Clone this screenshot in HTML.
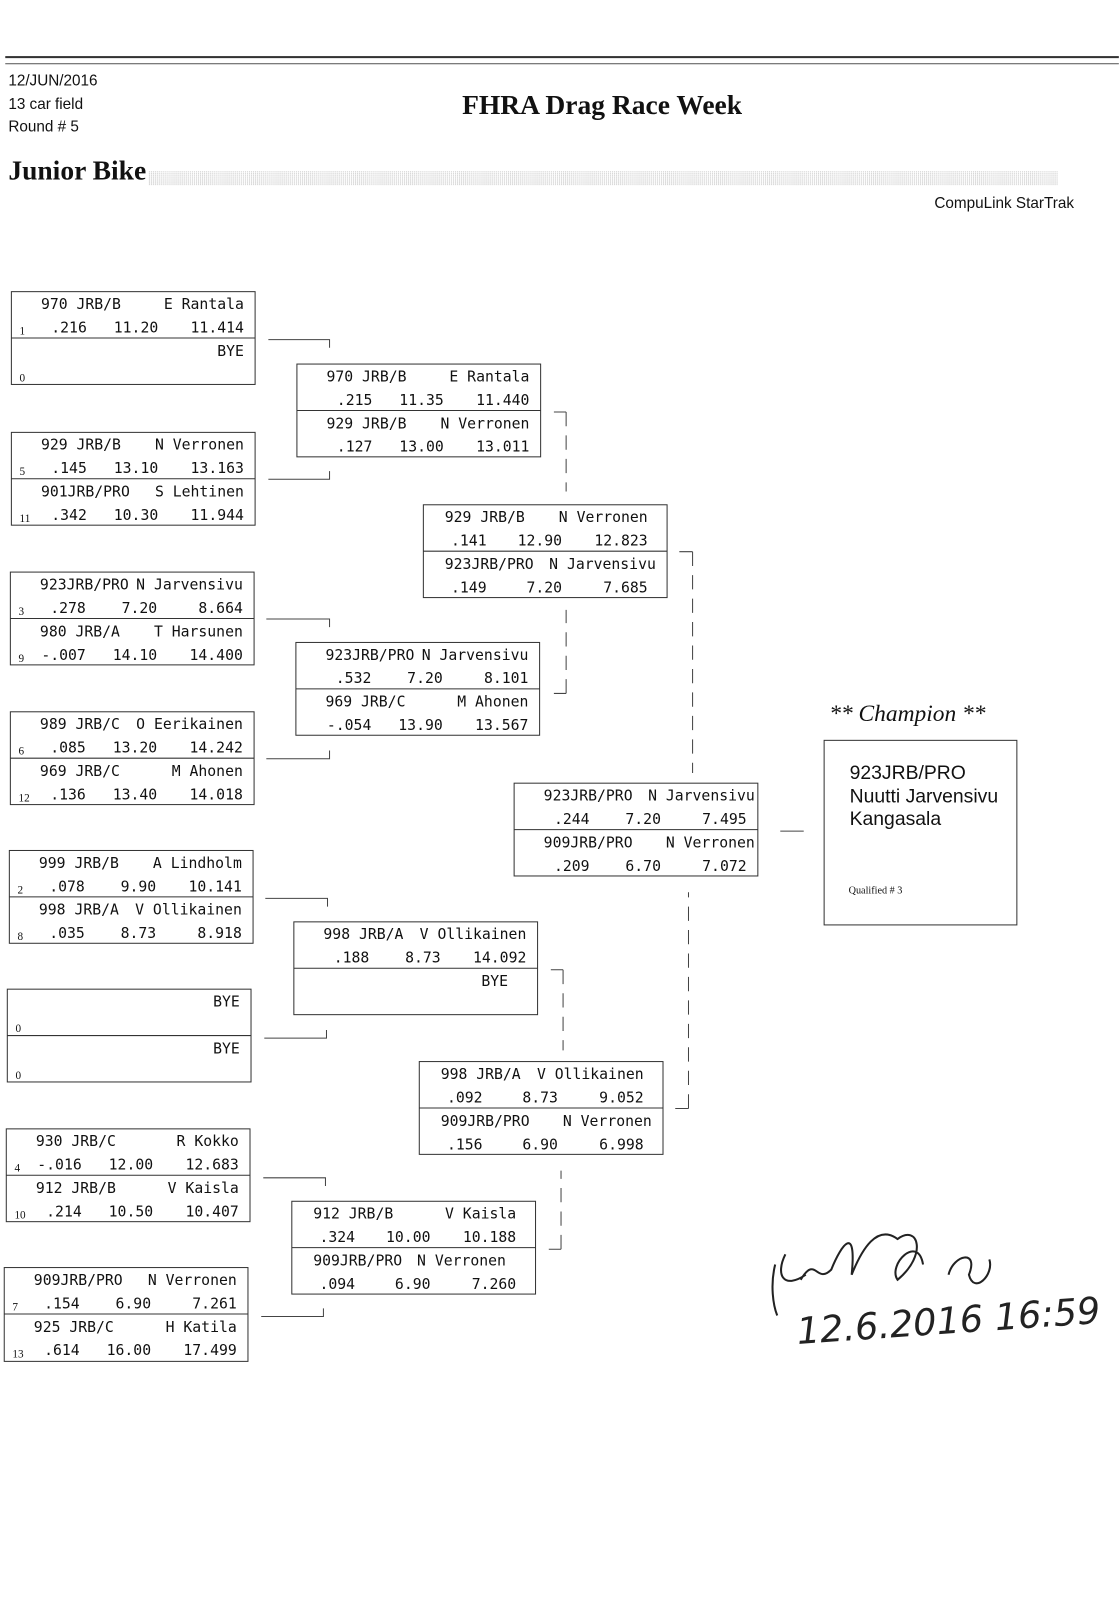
<!DOCTYPE html>
<html><head><meta charset="utf-8"><style>
body{margin:0;width:1119px;height:1600px;background:#fff;overflow:hidden}
svg{display:block}
.m{font-family:"DejaVu Sans Mono","Liberation Mono",monospace;font-size:14.5px;fill:#111}
.e{text-anchor:end}
.s{font-family:"Liberation Serif",serif;font-size:11px;fill:#111}
.bx{fill:none;stroke:#333;stroke-width:1}
</style></head><body>
<svg width="1119" height="1600" viewBox="0 0 1097 1569" xmlns="http://www.w3.org/2000/svg">
<rect x="5" y="55" width="1092" height="2" fill="#333"/>
<rect x="5" y="62" width="1092" height="1" fill="#555"/>
<g font-family="Liberation Sans, sans-serif" font-size="15" fill="#111">
<text x="8" y="84">12/JUN/2016</text><text x="8" y="107">13 car field</text><text x="8" y="129">Round # 5</text>
<text x="1053" y="204" text-anchor="end">CompuLink StarTrak</text>
</g>
<text x="453" y="112" font-family="Liberation Serif, serif" font-weight="bold" font-size="27" fill="#111">FHRA Drag Race Week</text>
<text x="8" y="176" font-family="Liberation Serif, serif" font-weight="bold" font-size="27" fill="#111">Junior Bike</text>
<defs><pattern id="dp" width="2" height="2" patternUnits="userSpaceOnUse"><rect width="1" height="1" fill="#bbb"/></pattern></defs>
<rect x="145" y="168" width="892" height="14" fill="url(#dp)"/>

<g class="m">
<g transform="translate(11,286)"><rect class="bx" width="239" height="91"/><line class="bx" x1="0" y1="45.5" x2="239" y2="45.5"/><text x="29" y="17">970 JRB/B</text><text class="e" x="228" y="17">E Rantala</text><text class="s" x="8" y="42">1</text><text class="e" x="74" y="40">.216</text><text class="e" x="144" y="40">11.20</text><text class="e" x="228" y="40">11.414</text><text class="e" x="228" y="63">BYE</text><text class="s" x="8" y="88">0</text></g>
<g transform="translate(11,424)"><rect class="bx" width="239" height="91"/><line class="bx" x1="0" y1="45.5" x2="239" y2="45.5"/><text x="29" y="17">929 JRB/B</text><text class="e" x="228" y="17">N Verronen</text><text class="s" x="8" y="42">5</text><text class="e" x="74" y="40">.145</text><text class="e" x="144" y="40">13.10</text><text class="e" x="228" y="40">13.163</text><text x="29" y="63">901JRB/PRO</text><text class="e" x="228" y="63">S Lehtinen</text><text class="s" x="8" y="88">11</text><text class="e" x="74" y="86">.342</text><text class="e" x="144" y="86">10.30</text><text class="e" x="228" y="86">11.944</text></g>
<g transform="translate(10,561)"><rect class="bx" width="239" height="91"/><line class="bx" x1="0" y1="45.5" x2="239" y2="45.5"/><text x="29" y="17">923JRB/PRO</text><text class="e" x="228" y="17">N Jarvensivu</text><text class="s" x="8" y="42">3</text><text class="e" x="74" y="40">.278</text><text class="e" x="144" y="40">7.20</text><text class="e" x="228" y="40">8.664</text><text x="29" y="63">980 JRB/A</text><text class="e" x="228" y="63">T Harsunen</text><text class="s" x="8" y="88">9</text><text class="e" x="74" y="86">-.007</text><text class="e" x="144" y="86">14.10</text><text class="e" x="228" y="86">14.400</text></g>
<g transform="translate(10,698)"><rect class="bx" width="239" height="91"/><line class="bx" x1="0" y1="45.5" x2="239" y2="45.5"/><text x="29" y="17">989 JRB/C</text><text class="e" x="228" y="17">O Eerikainen</text><text class="s" x="8" y="42">6</text><text class="e" x="74" y="40">.085</text><text class="e" x="144" y="40">13.20</text><text class="e" x="228" y="40">14.242</text><text x="29" y="63">969 JRB/C</text><text class="e" x="228" y="63">M Ahonen</text><text class="s" x="8" y="88">12</text><text class="e" x="74" y="86">.136</text><text class="e" x="144" y="86">13.40</text><text class="e" x="228" y="86">14.018</text></g>
<g transform="translate(9,834)"><rect class="bx" width="239" height="91"/><line class="bx" x1="0" y1="45.5" x2="239" y2="45.5"/><text x="29" y="17">999 JRB/B</text><text class="e" x="228" y="17">A Lindholm</text><text class="s" x="8" y="42">2</text><text class="e" x="74" y="40">.078</text><text class="e" x="144" y="40">9.90</text><text class="e" x="228" y="40">10.141</text><text x="29" y="63">998 JRB/A</text><text class="e" x="228" y="63">V Ollikainen</text><text class="s" x="8" y="88">8</text><text class="e" x="74" y="86">.035</text><text class="e" x="144" y="86">8.73</text><text class="e" x="228" y="86">8.918</text></g>
<g transform="translate(7,970)"><rect class="bx" width="239" height="91"/><line class="bx" x1="0" y1="45.5" x2="239" y2="45.5"/><text class="e" x="228" y="17">BYE</text><text class="s" x="8" y="42">0</text><text class="e" x="228" y="63">BYE</text><text class="s" x="8" y="88">0</text></g>
<g transform="translate(6,1107)"><rect class="bx" width="239" height="91"/><line class="bx" x1="0" y1="45.5" x2="239" y2="45.5"/><text x="29" y="17">930 JRB/C</text><text class="e" x="228" y="17">R Kokko</text><text class="s" x="8" y="42">4</text><text class="e" x="74" y="40">-.016</text><text class="e" x="144" y="40">12.00</text><text class="e" x="228" y="40">12.683</text><text x="29" y="63">912 JRB/B</text><text class="e" x="228" y="63">V Kaisla</text><text class="s" x="8" y="88">10</text><text class="e" x="74" y="86">.214</text><text class="e" x="144" y="86">10.50</text><text class="e" x="228" y="86">10.407</text></g>
<g transform="translate(4,1243)"><rect class="bx" width="239" height="92"/><line class="bx" x1="0" y1="45.5" x2="239" y2="45.5"/><text x="29" y="17">909JRB/PRO</text><text class="e" x="228" y="17">N Verronen</text><text class="s" x="8" y="42">7</text><text class="e" x="74" y="40">.154</text><text class="e" x="144" y="40">6.90</text><text class="e" x="228" y="40">7.261</text><text x="29" y="63">925 JRB/C</text><text class="e" x="228" y="63">H Katila</text><text class="s" x="8" y="88">13</text><text class="e" x="74" y="86">.614</text><text class="e" x="144" y="86">16.00</text><text class="e" x="228" y="86">17.499</text></g>

<g transform="translate(291,357)"><rect class="bx" width="239" height="91"/><line class="bx" x1="0" y1="45.5" x2="239" y2="45.5"/><text x="29" y="17">970 JRB/B</text><text class="e" x="228" y="17">E Rantala</text><text class="e" x="74" y="40">.215</text><text class="e" x="144" y="40">11.35</text><text class="e" x="228" y="40">11.440</text><text x="29" y="63">929 JRB/B</text><text class="e" x="228" y="63">N Verronen</text><text class="e" x="74" y="86">.127</text><text class="e" x="144" y="86">13.00</text><text class="e" x="228" y="86">13.011</text></g>
<g transform="translate(290,630)"><rect class="bx" width="239" height="91"/><line class="bx" x1="0" y1="45.5" x2="239" y2="45.5"/><text x="29" y="17">923JRB/PRO</text><text class="e" x="228" y="17">N Jarvensivu</text><text class="e" x="74" y="40">.532</text><text class="e" x="144" y="40">7.20</text><text class="e" x="228" y="40">8.101</text><text x="29" y="63">969 JRB/C</text><text class="e" x="228" y="63">M Ahonen</text><text class="e" x="74" y="86">-.054</text><text class="e" x="144" y="86">13.90</text><text class="e" x="228" y="86">13.567</text></g>
<g transform="translate(288,904)"><rect class="bx" width="239" height="91"/><line class="bx" x1="0" y1="45.5" x2="239" y2="45.5"/><text x="29" y="17">998 JRB/A</text><text class="e" x="228" y="17">V Ollikainen</text><text class="e" x="74" y="40">.188</text><text class="e" x="144" y="40">8.73</text><text class="e" x="228" y="40">14.092</text><text class="e" x="210" y="63">BYE</text></g>
<g transform="translate(286,1178)"><rect class="bx" width="239" height="91"/><line class="bx" x1="0" y1="45.5" x2="239" y2="45.5"/><text x="21" y="17">912 JRB/B</text><text class="e" x="220" y="17">V Kaisla</text><text class="e" x="62" y="40">.324</text><text class="e" x="136" y="40">10.00</text><text class="e" x="220" y="40">10.188</text><text x="21" y="63">909JRB/PRO</text><text class="e" x="210" y="63">N Verronen</text><text class="e" x="62" y="86">.094</text><text class="e" x="136" y="86">6.90</text><text class="e" x="220" y="86">7.260</text></g>

<g transform="translate(415,495)"><rect class="bx" width="239" height="91"/><line class="bx" x1="0" y1="45.5" x2="239" y2="45.5"/><text x="21" y="17">929 JRB/B</text><text class="e" x="220" y="17">N Verronen</text><text class="e" x="62" y="40">.141</text><text class="e" x="136" y="40">12.90</text><text class="e" x="220" y="40">12.823</text><text x="21" y="63">923JRB/PRO</text><text class="e" x="228" y="63">N Jarvensivu</text><text class="e" x="62" y="86">.149</text><text class="e" x="136" y="86">7.20</text><text class="e" x="220" y="86">7.685</text></g>
<g transform="translate(411,1041)"><rect class="bx" width="239" height="91"/><line class="bx" x1="0" y1="45.5" x2="239" y2="45.5"/><text x="21" y="17">998 JRB/A</text><text class="e" x="220" y="17">V Ollikainen</text><text class="e" x="62" y="40">.092</text><text class="e" x="136" y="40">8.73</text><text class="e" x="220" y="40">9.052</text><text x="21" y="63">909JRB/PRO</text><text class="e" x="228" y="63">N Verronen</text><text class="e" x="62" y="86">.156</text><text class="e" x="136" y="86">6.90</text><text class="e" x="220" y="86">6.998</text></g>
<g transform="translate(504,768)"><rect class="bx" width="239" height="91"/><line class="bx" x1="0" y1="45.5" x2="239" y2="45.5"/><text x="29" y="17">923JRB/PRO</text><text class="e" x="236" y="17">N Jarvensivu</text><text class="e" x="74" y="40">.244</text><text class="e" x="144" y="40">7.20</text><text class="e" x="228" y="40">7.495</text><text x="29" y="63">909JRB/PRO</text><text class="e" x="236" y="63">N Verronen</text><text class="e" x="74" y="86">.209</text><text class="e" x="144" y="86">6.70</text><text class="e" x="228" y="86">7.072</text></g>
</g>

<text x="813" y="707" font-family="Liberation Serif, serif" font-style="italic" font-size="23" fill="#111">** Champion **</text>
<rect class="bx" x="808" y="726" width="189" height="181"/>
<g font-family="Liberation Sans, sans-serif" font-size="19" fill="#111"><text x="833" y="764">923JRB/PRO</text><text x="833" y="787">Nuutti Jarvensivu</text><text x="833" y="809">Kangasala</text></g>
<text x="832" y="876" font-family="Liberation Serif, serif" font-size="10" fill="#111">Qualified # 3</text>

<g fill="none" stroke="#444" stroke-width="1">
<path d="M263 333H323V341M263 470H323V462M261 607H323V615M261 744H323V736M260 881H321V889M259 1018H320V1010M258 1155H319V1163M256 1291H317V1283"/>
<path d="M543 404H555M543 680H555M540 951H552M538 1225H550M666 541H679M662 1087H675M765 815H788"/>
<path stroke-dasharray="14 9" d="M555 404V482M555 680V598M552 951V1030M550 1225V1148M679 541V758M675 1087V875"/>
</g>
<g fill="none" stroke="#222" stroke-width="2">
<path d="M760 1240C755 1260 758 1280 762 1290M770 1230C760 1250 768 1265 790 1250M785 1255C800 1230 800 1260 815 1245C825 1220 840 1200 835 1250C845 1225 860 1200 880 1215C900 1200 910 1230 880 1255C870 1240 900 1210 905 1240M930 1250C935 1230 960 1225 950 1250C955 1270 975 1250 970 1235"/>
</g>
<text x="782" y="1318" transform="rotate(-4 782 1318)" font-family="DejaVu Sans, sans-serif" font-size="36" font-style="italic" font-weight="200" fill="#222">12.6.2016 16:59</text>
</svg>
</body></html>
